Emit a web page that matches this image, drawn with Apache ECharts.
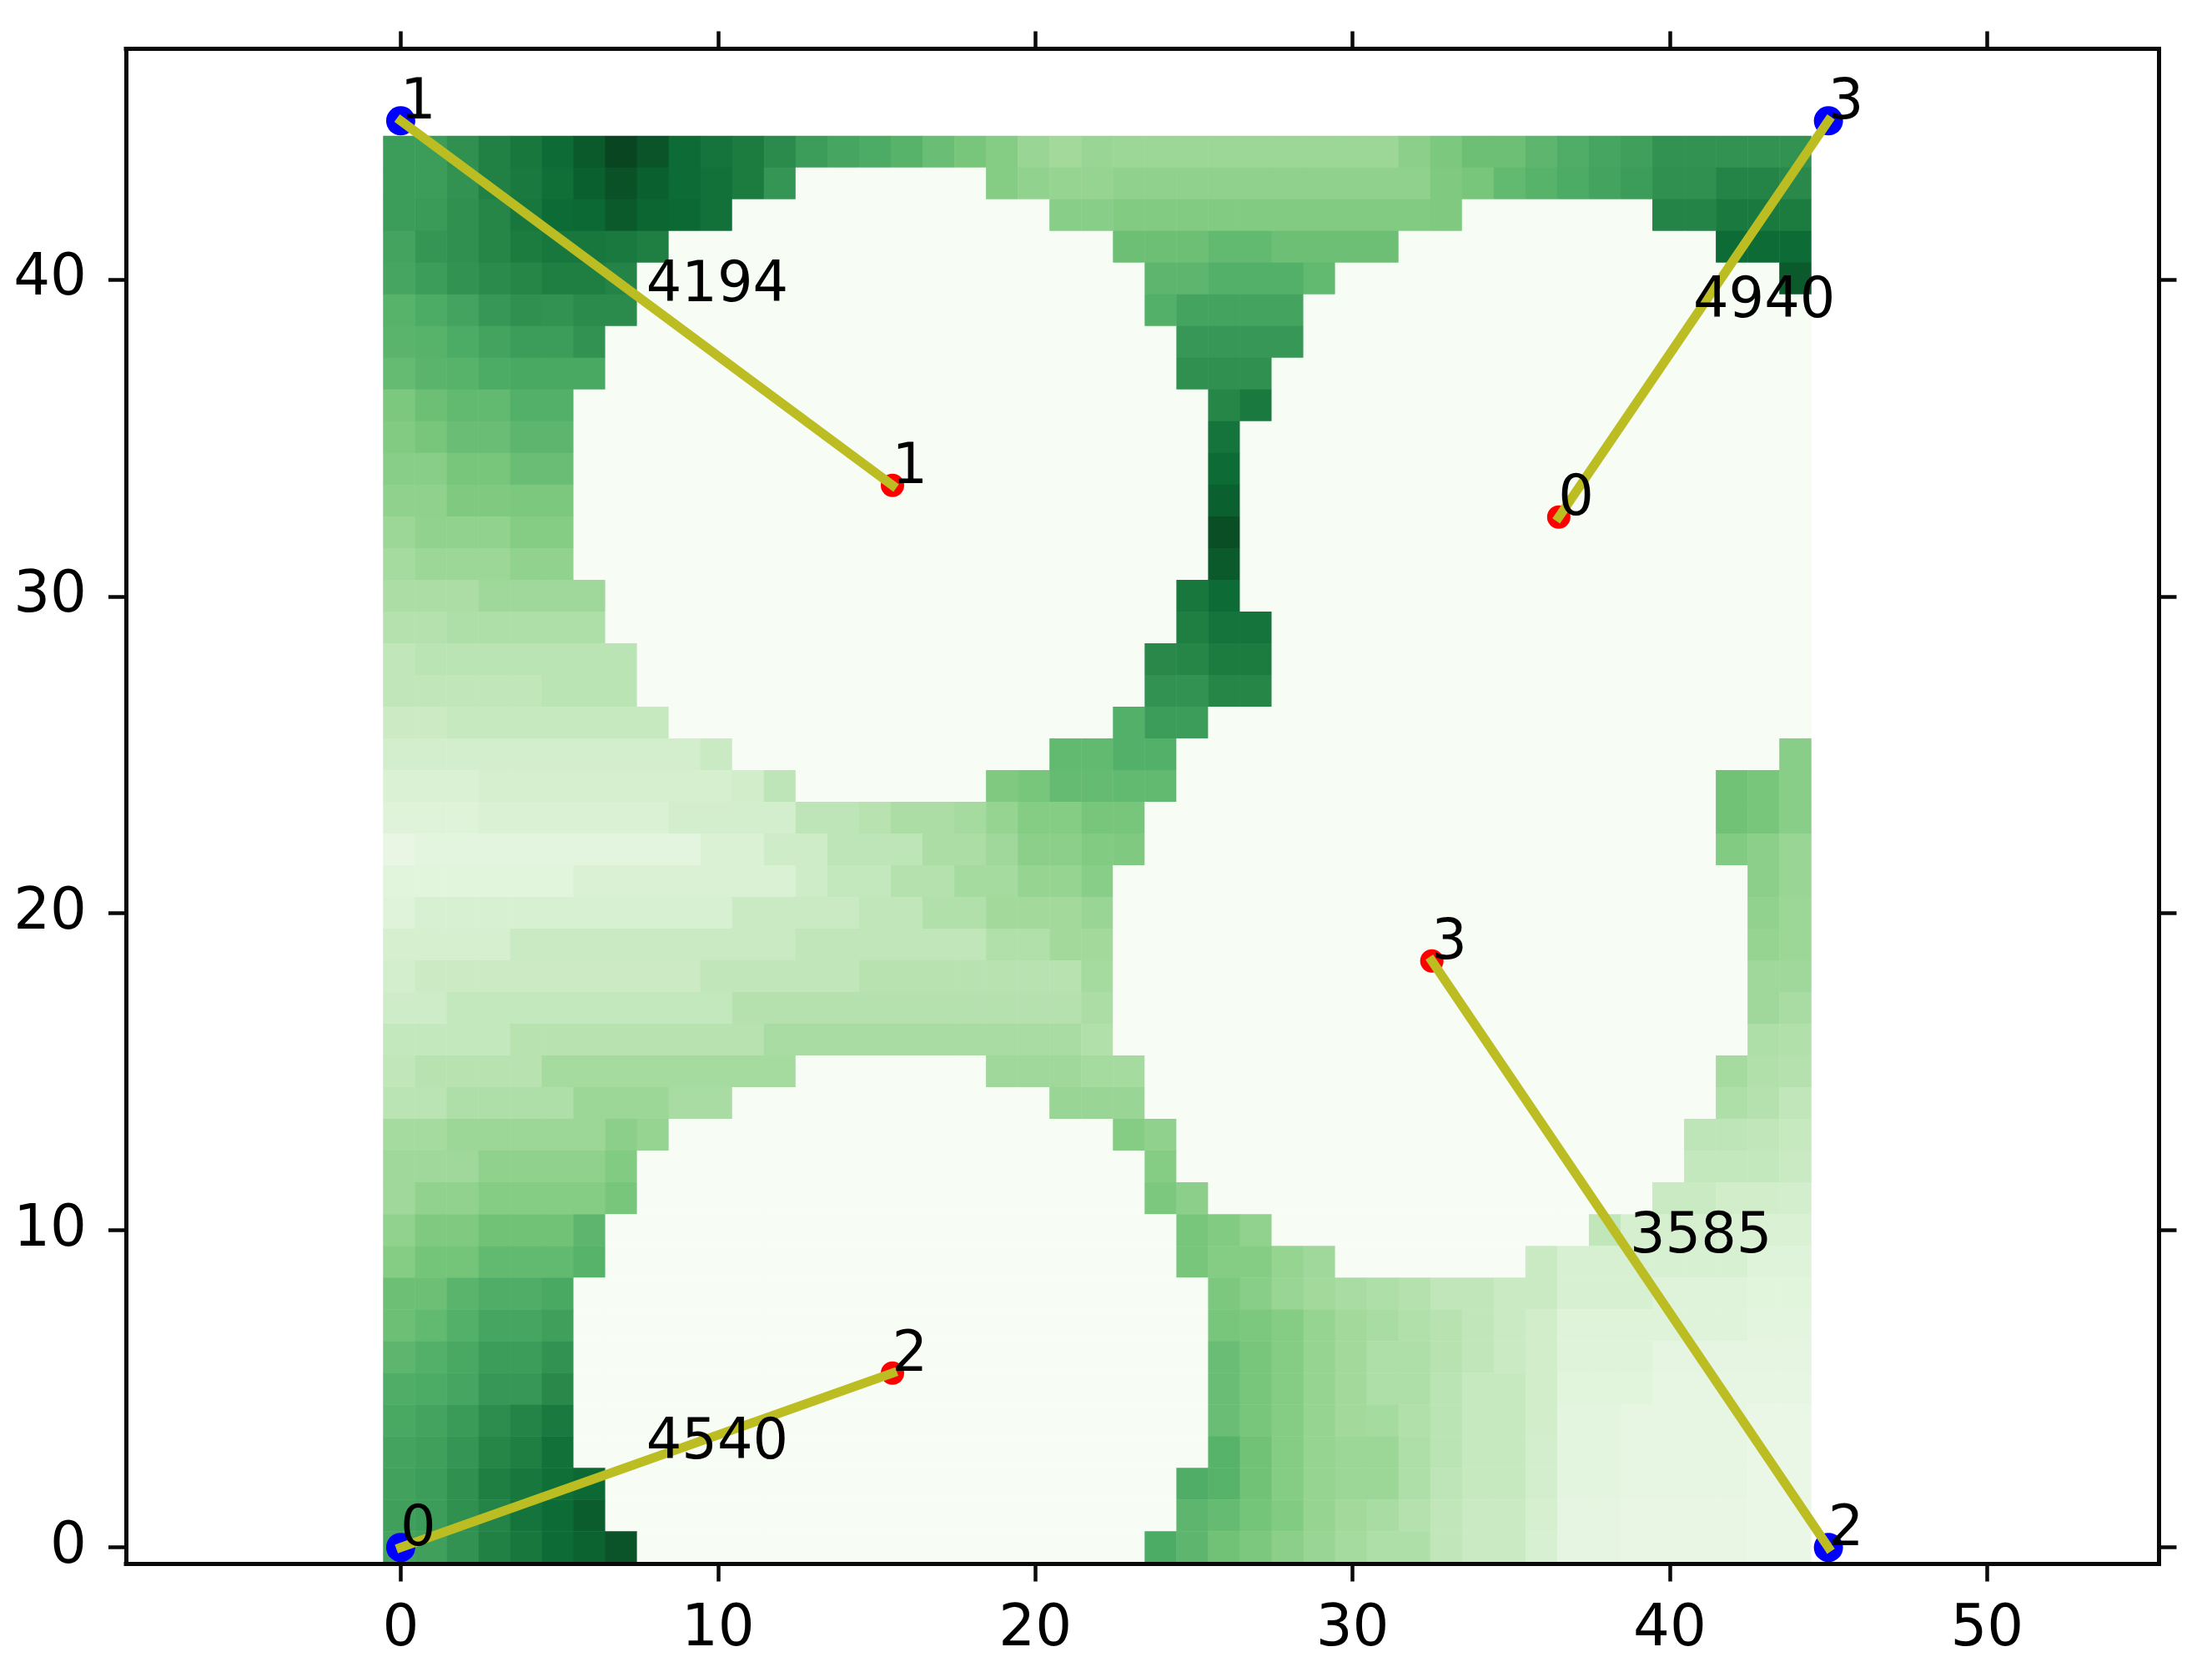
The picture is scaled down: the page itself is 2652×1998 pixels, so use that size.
<!DOCTYPE html>
<html>
<head>
<meta charset="utf-8">
<style>html,body{margin:0;padding:0;background:#fff}#c{width:2652px;height:1998px}</style>
<script src="https://cdn.jsdelivr.net/npm/echarts@6/dist/echarts.min.js"></script>
</head>
<body>
<div id="c"></div>
<script>
// Heat values, top row (y = 44) first, columns x = 0..44
const heatRows = [
[68,68,73,79,83,87,93,100,95,87, 84,81,75,68,64,62,59,54,50,46, 40,37,40,39,39,39,39,39,39,39, 39,39,44,49,53,53,57,61,64,67, 72,72,72,72,72],
[68,68,72,79,82,86,91,96,91,87, 85,81,71,0,0,0,0,0,0,46, 42,41,41,43,43,43,43,43,43,43, 43,43,43,48,50,56,59,62,65,68, 73,73,78,78,76],
[68,69,73,77,83,87,88,93,89,88, 85,0,0,0,0,0,0,0,0,0, 0,45,45,47,47,47,47,47,47,47, 47,47,47,48,0,0,0,0,0,0, 78,78,82,82,81],
[65,71,73,77,81,83,83,82,80,0, 0,0,0,0,0,0,0,0,0,0, 0,0,0,53,53,53,56,56,53,53, 53,53,0,0,0,0,0,0,0,0, 0,0,87,87,87],
[64,68,72,75,77,80,80,78,0,0, 0,0,0,0,0,0,0,0,0,0, 0,0,0,0,57,57,60,60,60,56, 0,0,0,0,0,0,0,0,0,0, 0,0,0,0,93],
[59,62,65,70,73,72,75,75,0,0, 0,0,0,0,0,0,0,0,0,0, 0,0,0,0,60,65,65,65,65,0, 0,0,0,0,0,0,0,0,0,0, 0,0,0,0,0],
[58,59,62,65,68,68,72,0,0,0, 0,0,0,0,0,0,0,0,0,0, 0,0,0,0,0,70,70,70,70,0, 0,0,0,0,0,0,0,0,0,0, 0,0,0,0,0],
[55,58,59,62,63,63,63,0,0,0, 0,0,0,0,0,0,0,0,0,0, 0,0,0,0,0,73,73,73,0,0, 0,0,0,0,0,0,0,0,0,0, 0,0,0,0,0],
[49,53,56,56,60,60,0,0,0,0, 0,0,0,0,0,0,0,0,0,0, 0,0,0,0,0,0,77,82,0,0, 0,0,0,0,0,0,0,0,0,0, 0,0,0,0,0],
[47,50,54,54,57,57,0,0,0,0, 0,0,0,0,0,0,0,0,0,0, 0,0,0,0,0,0,84,0,0,0, 0,0,0,0,0,0,0,0,0,0, 0,0,0,0,0],
[45,45,50,50,54,54,0,0,0,0, 0,0,0,0,0,0,0,0,0,0, 0,0,0,0,0,0,87,0,0,0, 0,0,0,0,0,0,0,0,0,0, 0,0,0,0,0],
[43,43,48,48,49,49,0,0,0,0, 0,0,0,0,0,0,0,0,0,0, 0,0,0,0,0,0,91,0,0,0, 0,0,0,0,0,0,0,0,0,0, 0,0,0,0,0],
[39,42,42,42,46,46,0,0,0,0, 0,0,0,0,0,0,0,0,0,0, 0,0,0,0,0,0,97,0,0,0, 0,0,0,0,0,0,0,0,0,0, 0,0,0,0,0],
[36,39,39,39,42,42,0,0,0,0, 0,0,0,0,0,0,0,0,0,0, 0,0,0,0,0,0,93,0,0,0, 0,0,0,0,0,0,0,0,0,0, 0,0,0,0,0],
[34,34,34,38,38,38,38,0,0,0, 0,0,0,0,0,0,0,0,0,0, 0,0,0,0,0,83,87,0,0,0, 0,0,0,0,0,0,0,0,0,0, 0,0,0,0,0],
[31,31,33,33,33,33,33,0,0,0, 0,0,0,0,0,0,0,0,0,0, 0,0,0,0,0,80,84,84,0,0, 0,0,0,0,0,0,0,0,0,0, 0,0,0,0,0],
[27,29,29,29,29,29,29,29,0,0, 0,0,0,0,0,0,0,0,0,0, 0,0,0,0,76,77,81,81,0,0, 0,0,0,0,0,0,0,0,0,0, 0,0,0,0,0],
[27,27,27,27,27,29,29,29,0,0, 0,0,0,0,0,0,0,0,0,0, 0,0,0,0,72,72,77,77,0,0, 0,0,0,0,0,0,0,0,0,0, 0,0,0,0,0],
[23,23,25,25,25,25,25,25,25,0, 0,0,0,0,0,0,0,0,0,0, 0,0,0,60,68,68,0,0,0,0, 0,0,0,0,0,0,0,0,0,0, 0,0,0,0,0],
[20,20,20,20,20,20,20,20,20,20, 24,0,0,0,0,0,0,0,0,0, 0,56,56,60,60,0,0,0,0,0, 0,0,0,0,0,0,0,0,0,0, 0,0,0,0,45],
[17,17,17,19,19,19,19,19,19,19, 19,21,28,0,0,0,0,0,0,48, 50,55,55,56,56,0,0,0,0,0, 0,0,0,0,0,0,0,0,0,0, 0,0,52,50,45],
[15,15,15,17,17,17,17,17,17,20, 20,20,20,28,28,30,34,34,36,41, 46,46,50,50,0,0,0,0,0,0, 0,0,0,0,0,0,0,0,0,0, 0,0,52,50,45],
[10,13,13,13,13,13,13,13,13,13, 17,17,22,22,28,28,28,34,34,38, 44,44,47,48,0,0,0,0,0,0, 0,0,0,0,0,0,0,0,0,0, 0,0,47,44,40],
[14,14,14,14,14,14,17,17,17,17, 17,17,17,22,26,26,31,31,36,36, 41,41,45,0,0,0,0,0,0,0, 0,0,0,0,0,0,0,0,0,0, 0,0,0,44,40],
[15,18,18,18,18,18,18,18,18,18, 18,24,24,24,24,27,27,32,32,37, 37,37,40,0,0,0,0,0,0,0, 0,0,0,0,0,0,0,0,0,0, 0,0,0,42,39],
[19,19,19,19,24,24,24,24,24,24, 24,24,24,27,27,27,27,27,27,32, 32,37,37,0,0,0,0,0,0,0, 0,0,0,0,0,0,0,0,0,0, 0,0,0,41,39],
[20,23,23,23,23,23,23,23,23,23, 27,27,27,27,27,30,30,30,30,30, 30,30,36,0,0,0,0,0,0,0, 0,0,0,0,0,0,0,0,0,0, 0,0,0,38,38],
[22,22,26,26,26,26,26,26,26,26, 26,31,31,31,31,31,31,31,31,31, 31,31,34,0,0,0,0,0,0,0, 0,0,0,0,0,0,0,0,0,0, 0,0,0,38,35],
[26,26,26,26,30,30,30,30,30,30, 30,30,35,35,35,35,35,35,35,35, 35,35,32,0,0,0,0,0,0,0, 0,0,0,0,0,0,0,0,0,0, 0,0,0,33,32],
[27,30,30,30,30,36,36,36,36,36, 36,36,36,0,0,0,0,0,0,38, 38,38,36,36,0,0,0,0,0,0, 0,0,0,0,0,0,0,0,0,0, 0,0,36,32,31],
[29,29,33,33,33,33,39,39,39,35, 35,0,0,0,0,0,0,0,0,0, 0,40,40,40,0,0,0,0,0,0, 0,0,0,0,0,0,0,0,0,0, 0,0,33,31,27],
[36,36,39,39,39,39,39,44,41,0, 0,0,0,0,0,0,0,0,0,0, 0,0,0,46,43,0,0,0,0,0, 0,0,0,0,0,0,0,0,0,0, 0,28,28,27,25],
[38,38,38,43,43,43,43,47,0,0, 0,0,0,0,0,0,0,0,0,0, 0,0,0,0,46,0,0,0,0,0, 0,0,0,0,0,0,0,0,0,0, 0,26,26,26,24],
[38,42,42,46,46,46,46,50,0,0, 0,0,0,0,0,0,0,0,0,0, 0,0,0,0,49,44,0,0,0,0, 0,0,0,0,0,0,0,0,0,0, 24,24,21,21,20],
[42,48,48,52,52,52,57,0,0,0, 0,0,0,0,0,0,0,0,0,0, 0,0,0,0,0,50,47,42,0,0, 0,0,0,0,0,0,0,0,27,19, 19,19,17,17,17],
[46,51,51,56,56,56,59,0,0,0, 0,0,0,0,0,0,0,0,0,0, 0,0,0,0,0,50,46,46,41,38, 0,0,0,0,0,0,24,18,18,18, 18,18,18,15,15],
[53,53,58,61,61,63,0,0,0,0, 0,0,0,0,0,0,0,0,0,0, 0,0,0,0,0,0,49,45,40,37, 35,33,31,27,27,24,24,18,18,18, 15,15,15,14,14],
[53,56,60,64,64,67,0,0,0,0, 0,0,0,0,0,0,0,0,0,0, 0,0,0,0,0,0,50,49,46,41, 37,35,32,30,27,24,21,15,15,15, 15,15,15,13,13],
[57,60,63,68,68,72,0,0,0,0, 0,0,0,0,0,0,0,0,0,0, 0,0,0,0,0,0,54,50,46,41, 37,33,33,30,27,24,21,15,15,15, 12,12,12,12,12],
[61,62,64,70,70,76,0,0,0,0, 0,0,0,0,0,0,0,0,0,0, 0,0,0,0,0,0,54,50,46,41, 37,33,33,29,25,25,21,14,14,14, 11,11,11,11,11],
[63,65,69,74,78,82,0,0,0,0, 0,0,0,0,0,0,0,0,0,0, 0,0,0,0,0,0,54,50,46,41, 37,36,32,29,25,25,21,13,13,11, 11,11,11,9,9],
[65,67,71,77,80,85,0,0,0,0, 0,0,0,0,0,0,0,0,0,0, 0,0,0,0,0,0,59,52,46,41, 39,39,33,29,25,25,20,13,13,11, 11,11,11,9,9],
[66,68,73,80,83,86,88,0,0,0, 0,0,0,0,0,0,0,0,0,0, 0,0,0,0,0,61,59,52,46,41, 39,39,33,28,25,25,20,13,13,11, 11,11,11,9,9],
[67,68,73,78,84,87,92,0,0,0, 0,0,0,0,0,0,0,0,0,0, 0,0,0,0,0,57,55,51,47,41, 37,35,31,27,24,24,19,12,12,10, 10,10,10,9,9],
[65,67,72,79,83,87,90,95,0,0, 0,0,0,0,0,0,0,0,0,0, 0,0,0,0,62,57,52,49,44,40, 36,33,33,27,24,24,18,12,12,10, 10,10,10,9,9]
];
const greens = ['#f7fcf5','#e5f5e0','#c7e9c0','#a1d99b','#78c67b','#4aaa64','#2b8b4c','#0c6b34','#0a4522'];

const xTicks = [0,10,20,30,40,50];
const yTicks = [0,10,20,30,40];

const cornerX = [0,0,45,45];
const cornerY = [0,45,0,45];
const cornerIds = ['0','1','2','3'];
const centerX = [36.5,15.5,15.5,32.5];
const centerY = [32.5,33.5,5.5,18.5];
const centerIds = ['0','1','2','3'];

const linkFromX = [0,0,45,45];
const linkFromY = [0,45,0,45];
const linkToX = [15.5,15.5,32.5,36.5];
const linkToY = [5.5,33.5,18.5,32.5];
const linkCosts = ['4540','4194','3585','4940'];

// layout
const F = 'DejaVu Sans', FS = 69, FS_IN = 67;
const box = {left:151, top:58.5, right:2588.5, bottom:1874.5};
const heat = {left:459.5, top:163, right:2171.5, bottom:1873.5};
const xRange = [-8.66, 55.42];
const yRange = [-0.52, 47.27];

const cols = Array.from({length:45},(_,i)=>String(i));
const cellData = [];
heatRows.forEach((row,j)=>row.forEach((v,i)=>cellData.push([i,44-j,v])));

const spine = {show:true,onZero:false,lineStyle:{color:'#0a0a0a',width:5,cap:'square'}};
const tick = vals => ({show:true,length:21,inside:false,customValues:vals,lineStyle:{color:'#0a0a0a',width:4.5}});
const valAxis = (extra) => Object.assign({type:'value',gridIndex:1,splitLine:{show:false},axisLine:spine,z:5},extra);

const textLabel = {show:true,position:[0,14],align:'left',verticalAlign:'bottom',opacity:1,
  color:'#000',fontFamily:F,fontSize:FS_IN,lineHeight:FS_IN,formatter:p=>p.value[2]};
const noMark = {symbolSize:1,itemStyle:{color:'transparent',opacity:1},silent:true};

const linkSeries = linkCosts.map((_,i)=>({
  type:'line',xAxisIndex:1,yAxisIndex:1,z:4,showSymbol:false,symbol:'none',silent:true,clip:false,
  lineStyle:{color:'#bcbd22',width:11,cap:'square',opacity:1},
  data:[[linkFromX[i],linkFromY[i]],[linkToX[i],linkToY[i]]]
}));

const option = {
  animation:false,
  backgroundColor:'#fff',
  grid:[
    {left:heat.left,top:heat.top,width:heat.right-heat.left,height:heat.bottom-heat.top,show:false},
    {left:box.left,top:box.top,width:box.right-box.left,height:box.bottom-box.top,show:false}
  ],
  xAxis:[
    {type:'category',gridIndex:0,data:cols,show:false,boundaryGap:true},
    valAxis({position:'bottom',min:xRange[0],max:xRange[1],axisTick:tick(xTicks),
      axisLabel:{show:true,customValues:xTicks,margin:45,color:'#000',fontFamily:F,fontSize:FS}}),
    valAxis({position:'top',min:xRange[0],max:xRange[1],axisTick:tick(xTicks),axisLabel:{show:false}})
  ],
  yAxis:[
    {type:'category',gridIndex:0,data:cols,show:false,boundaryGap:true},
    valAxis({position:'left',min:yRange[0],max:yRange[1],axisTick:tick(yTicks),
      axisLabel:{show:true,customValues:yTicks,margin:47,color:'#000',fontFamily:F,fontSize:FS,padding:[6,0,0,0]}}),
    valAxis({position:'right',min:yRange[0],max:yRange[1],axisTick:tick(yTicks),axisLabel:{show:false}})
  ],
  visualMap:{show:false,type:'continuous',seriesIndex:0,min:0,max:100,inRange:{color:greens}},
  series:[
    {type:'heatmap',xAxisIndex:0,yAxisIndex:0,z:1,data:cellData,silent:true,progressive:0,itemStyle:{borderWidth:0}},
    {type:'scatter',xAxisIndex:1,yAxisIndex:1,z:3,symbolSize:35,silent:true,clip:false,itemStyle:{color:'#0000ff',opacity:1},
      data:cornerX.map((x,i)=>[x,cornerY[i]])},
    {type:'scatter',xAxisIndex:1,yAxisIndex:1,z:3,symbolSize:28,silent:true,clip:false,itemStyle:{color:'#ff0000',opacity:1},
      data:centerX.map((x,i)=>[x,centerY[i]])},
    ...linkSeries,
    Object.assign({type:'scatter',xAxisIndex:1,yAxisIndex:1,z:6,clip:false,label:textLabel,
      data:cornerX.map((x,i)=>[x,cornerY[i],cornerIds[i]]).concat(centerX.map((x,i)=>[x,centerY[i],centerIds[i]]))},noMark),
    Object.assign({type:'scatter',xAxisIndex:1,yAxisIndex:1,z:6,clip:false,label:textLabel,
      data:linkCosts.map((c,i)=>[(linkFromX[i]+linkToX[i])/2,(linkFromY[i]+linkToY[i])/2,c])},noMark)
  ]
};
const chart = echarts.init(document.getElementById('c'),null,{renderer:'canvas',width:2652,height:1998,devicePixelRatio:1});
chart.setOption(option);
</script>
</body>
</html>
